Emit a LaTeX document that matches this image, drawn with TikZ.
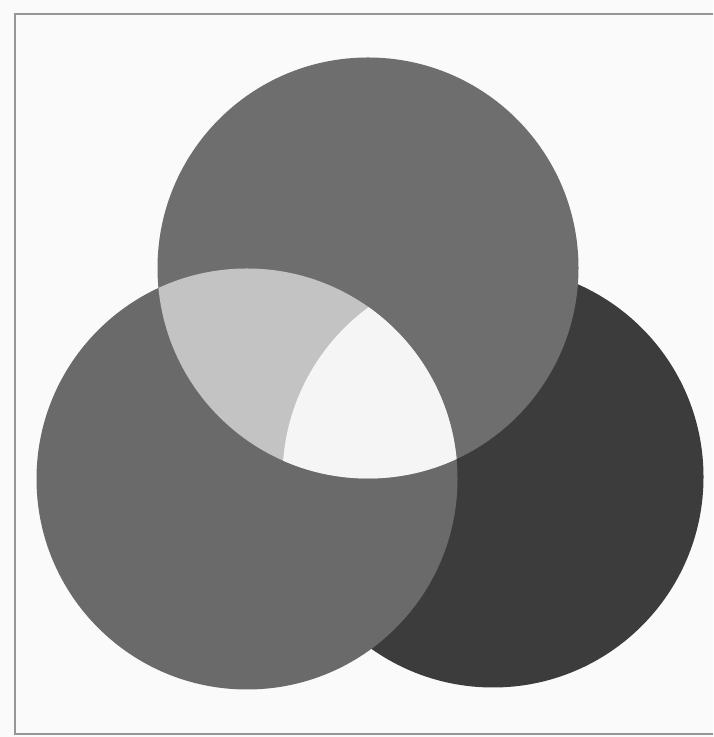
\documentclass[tikz,border=0pt]{standalone}
\usetikzlibrary{calc}
\definecolor{paper}{RGB}{250,250,250}
\definecolor{frameC}{RGB}{150,150,150}
\definecolor{topC}{RGB}{110,110,110}
\definecolor{leftC}{RGB}{106,106,106}
\definecolor{rightC}{RGB}{60,60,60}
\definecolor{pairC}{RGB}{195,195,195}
\definecolor{tripleC}{RGB}{245,245,245}
\begin{document}
\begin{tikzpicture}
  \def\R{2.105}
  \useasboundingbox (0,0) rectangle (7.13,7.37);
  \fill[paper] (0,0) rectangle (7.13,7.37);
  \draw[frameC,line width=0.6pt] (7.13,7.23)--(0.15,7.23)--(0.15,0.03)--(7.13,0.03);
  \coordinate (ctop)   at (3.68,4.69);
  \coordinate (cleft)  at (2.47,2.58);
  \coordinate (cright) at (4.93,2.60);
  % back to front
  \fill[rightC] (cright) circle (\R);
  \fill[leftC]  (cleft)  circle (\R);
  \fill[topC]   (ctop)   circle (\R);
  \begin{scope}
    \clip (ctop) circle (\R);
    \fill[pairC] (cleft) circle (\R);
    \clip (cleft) circle (\R);
    \fill[tripleC] (cright) circle (\R);
  \end{scope}
\end{tikzpicture}
\end{document}
